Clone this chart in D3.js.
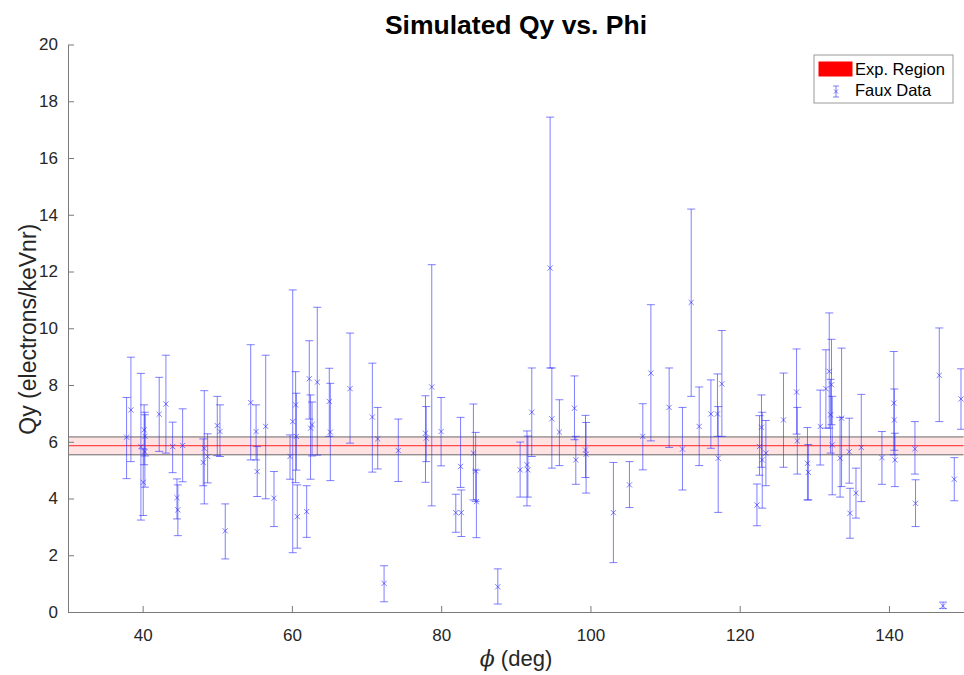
<!DOCTYPE html>
<html>
<head>
<meta charset="utf-8">
<script src="https://cdn.jsdelivr.net/npm/d3@7"></script>
<style>
  html, body { margin: 0; padding: 0; background: #fff; }
  svg { display: block; font-family: "Liberation Sans", Arial, Helvetica, sans-serif; }
</style>
</head>
<body>
<svg id="chart" width="964" height="675"></svg>
<script>
// Simulated Qy measurements vs. recoil angle phi, with asymmetric error bars
const phi = [
  37.85, 38.43, 39.77, 40.08, 40.20, 40.30, 40.32, 42.22, 43.12, 44.02,
  44.60, 44.72, 45.36, 48.12, 48.26, 48.71, 50.00, 50.36, 51.07, 54.48,
  55.20, 55.35, 56.49, 57.60, 59.75, 60.11, 60.50, 60.60, 60.72, 61.98,
  62.33, 62.50, 62.70, 63.40, 65.01, 65.15, 67.79, 70.78, 71.50, 72.35,
  74.26, 77.90, 78.00, 78.74, 79.99, 81.96, 82.60, 82.70, 84.32, 84.62,
  84.72, 87.59, 90.58, 91.50, 91.62, 92.14, 94.60, 94.83, 95.84, 97.86,
  98.04, 99.34, 99.42, 103.08, 105.23, 107.02, 108.10, 110.55, 112.33, 113.50,
  114.57, 116.14, 117.02, 117.12, 117.61, 122.31, 122.65, 122.92, 123.02, 123.51,
  125.87, 127.62, 127.72, 129.08, 129.20, 130.79, 131.55, 132.00, 132.18, 132.30,
  132.40, 133.45, 133.65, 134.68, 134.78, 135.58, 136.29, 139.06, 140.65, 140.72,
  140.80, 143.48, 143.56, 146.74, 147.24, 148.75, 149.65
];
const qy = [
  6.16, 7.12, 5.83, 4.57, 6.42, 5.65, 6.19, 6.97, 7.33, 5.83,
  4.03, 3.60, 5.87, 5.27, 5.77, 5.48, 6.57, 6.36, 2.86, 7.38,
  6.36, 4.95, 6.54, 4.01, 5.48, 6.71, 7.30, 6.19, 3.36, 3.54,
  8.22, 6.48, 6.60, 8.10, 7.42, 6.34, 7.87, 6.87, 6.10, 1.01,
  5.69, 6.30, 6.13, 7.93, 6.36, 3.50, 5.13, 3.50, 5.60, 4.97,
  3.89, 0.89, 5.01, 5.19, 5.01, 7.04, 12.12, 6.81, 6.34, 7.18,
  5.36, 5.71, 5.56, 3.50, 4.48, 6.19, 8.42, 7.21, 5.74, 10.91,
  6.54, 6.98, 6.98, 5.42, 8.04, 3.77, 5.83, 6.51, 5.36, 5.60,
  6.77, 7.75, 6.03, 5.24, 4.92, 6.54, 7.87, 8.48, 6.95, 8.01,
  5.89, 5.42, 6.83, 5.65, 3.48, 4.19, 5.80, 5.44, 7.36, 6.77,
  5.36, 5.75, 3.83, 8.34, 0.22, 4.68, 7.51
];
const qyLow = [
  4.70, 5.30, 3.24, 3.40, 5.19, 4.40, 5.50, 5.66, 5.60, 4.91,
  3.28, 2.69, 4.59, 4.45, 3.81, 4.55, 5.51, 5.48, 1.87, 5.36,
  5.36, 4.07, 3.99, 3.01, 4.68, 2.09, 4.56, 5.00, 2.25, 2.63,
  6.80, 4.68, 5.50, 5.53, 6.19, 4.63, 5.95, 4.93, 5.04, 0.36,
  4.60, 4.57, 5.30, 3.74, 5.15, 2.81, 4.39, 2.66, 3.95, 3.90,
  2.62, 0.28, 4.05, 3.74, 4.05, 5.48, 8.60, 5.07, 5.16, 6.07,
  4.50, 4.74, 4.19, 1.74, 3.68, 5.01, 6.03, 5.80, 4.30, 7.60,
  5.16, 5.77, 6.19, 3.51, 6.19, 3.04, 4.82, 5.10, 3.66, 4.45,
  5.10, 6.27, 4.86, 3.95, 3.95, 5.18, 6.48, 6.48, 5.60, 6.60,
  4.13, 4.05, 4.42, 4.54, 2.60, 3.31, 3.89, 4.50, 5.54, 5.70,
  4.42, 4.86, 3.01, 6.71, 0.12, 3.92, 6.44
];
const qyHigh = [
  7.56, 8.98, 8.41, 5.75, 7.30, 7.04, 6.95, 8.27, 9.05, 6.69,
  4.69, 4.48, 7.16, 6.10, 7.80, 6.28, 7.60, 7.30, 3.81, 9.42,
  7.30, 5.83, 9.05, 4.95, 6.24, 11.35, 8.47, 7.71, 4.48, 4.45,
  9.56, 7.65, 7.40, 10.74, 8.59, 8.06, 9.83, 8.77, 7.21, 1.63,
  6.80, 7.62, 7.24, 12.24, 7.56, 4.15, 6.86, 4.30, 7.33, 6.33,
  5.00, 1.52, 5.99, 6.38, 6.20, 8.60, 17.44, 8.60, 7.48, 8.32,
  6.19, 6.93, 6.68, 5.27, 5.30, 7.34, 10.83, 8.60, 7.21, 14.20,
  7.93, 8.18, 8.39, 7.24, 9.92, 4.51, 6.92, 7.65, 7.04, 6.75,
  8.42, 9.27, 7.21, 6.50, 5.90, 7.82, 9.24, 10.54, 8.20, 9.61,
  7.60, 6.86, 9.30, 6.83, 4.36, 5.07, 7.67, 6.36, 9.18, 7.86,
  6.30, 6.71, 4.66, 10.01, 0.35, 5.44, 8.57
];

// Experimental Qy band
const expCenter = 5.86;
const expLow = 5.54;
const expHigh = 6.17;

const xTicks = [40, 60, 80, 100, 120, 140];
const yTicks = [0, 2, 4, 6, 8, 10, 12, 14, 16, 18, 20];
const xDomain = [30, 150];
const yDomain = [0, 20];

const titleText = "Simulated Qy vs. Phi";
const yLabelText = "Qy (electrons/keVnr)";
const legendLabels = ["Exp. Region", "Faux Data"];

const svg = d3.select("#chart");
const W = 964, H = 675;
const m = { left: 68, right: 0.4, top: 44.5, bottom: 63 };

const x = d3.scaleLinear().domain(xDomain).range([m.left, W - m.right]);
const y = d3.scaleLinear().domain(yDomain).range([H - m.bottom, m.top]);

const axisColor = "#7a7a7a";
const textColor = "#262626";
const barColor = "#2b2bff";

// Experimental region band
const band = svg.append("g");
band.append("rect")
  .attr("x", x(xDomain[0])).attr("width", x(xDomain[1]) - x(xDomain[0]))
  .attr("y", y(expHigh)).attr("height", y(expLow) - y(expHigh))
  .attr("fill", "#ff0000").attr("fill-opacity", 0.11);
[expLow, expHigh].forEach(v => {
  band.append("line")
    .attr("x1", x(xDomain[0])).attr("x2", x(xDomain[1]))
    .attr("y1", y(v)).attr("y2", y(v))
    .attr("stroke", "#3a3a3a").attr("stroke-width", 1).attr("stroke-opacity", 0.75);
});
band.append("line")
  .attr("x1", x(xDomain[0])).attr("x2", x(xDomain[1]))
  .attr("y1", y(expCenter)).attr("y2", y(expCenter))
  .attr("stroke", "#ff2020").attr("stroke-width", 1);

// Error bars with x markers
const pts = phi.map((p, i) => ({ p, v: qy[i], lo: qyLow[i], hi: qyHigh[i] }));
const cap = 4, mk = 2.6;
const eb = svg.append("g")
  .attr("stroke", barColor).attr("stroke-width", 1).attr("stroke-opacity", 0.6)
  .attr("fill", "none");
const g = eb.selectAll("g").data(pts).join("g");
g.append("line")
  .attr("x1", d => x(d.p)).attr("x2", d => x(d.p))
  .attr("y1", d => y(d.lo)).attr("y2", d => y(d.hi));
g.append("line")
  .attr("x1", d => x(d.p) - cap).attr("x2", d => x(d.p) + cap)
  .attr("y1", d => y(d.lo)).attr("y2", d => y(d.lo));
g.append("line")
  .attr("x1", d => x(d.p) - cap).attr("x2", d => x(d.p) + cap)
  .attr("y1", d => y(d.hi)).attr("y2", d => y(d.hi));
g.append("path")
  .attr("d", d => {
    const cx = x(d.p), cy = y(d.v);
    return `M${cx - mk},${cy - mk}L${cx + mk},${cy + mk}M${cx - mk},${cy + mk}L${cx + mk},${cy - mk}`;
  });

// Axes (ticks point inward)
const xAxis = svg.append("g")
  .attr("transform", `translate(0,${y(0)})`)
  .call(d3.axisBottom(x).tickValues(xTicks).tickSize(-6).tickPadding(17).tickSizeOuter(0));
const yAxis = svg.append("g")
  .attr("transform", `translate(${x(xDomain[0])},0)`)
  .call(d3.axisLeft(y).tickValues(yTicks).tickSize(-6).tickPadding(10).tickSizeOuter(0));
[xAxis, yAxis].forEach(a => {
  a.select(".domain").attr("stroke", axisColor);
  a.selectAll(".tick line").attr("stroke", axisColor);
  a.selectAll(".tick text").attr("fill", textColor)
    .style("font-size", "17px").style("font-family", "Liberation Sans, Arial, sans-serif");
});

// Title and axis labels
svg.append("text")
  .attr("x", 516).attr("y", 34).attr("text-anchor", "middle")
  .attr("fill", "#000").style("font-size", "26.5px").style("font-weight", "bold")
  .text(titleText);

const xl = svg.append("text")
  .attr("x", 516).attr("y", 666).attr("text-anchor", "middle")
  .attr("fill", textColor).style("font-size", "22px");
xl.append("tspan").style("font-style", "italic").style("font-family", "DejaVu Serif, serif").text("\u03D5");
xl.append("tspan").text(" (deg)");

svg.append("text")
  .attr("transform", `translate(36,${(y(0) + y(20)) / 2 + 1}) rotate(-90)`)
  .attr("text-anchor", "middle").attr("fill", textColor)
  .style("font-size", "23px").text(yLabelText);

// Legend
const lg = svg.append("g").attr("transform", "translate(814,55)");
lg.append("rect").attr("width", 139).attr("height", 48)
  .attr("fill", "#fff").attr("stroke", "#9a9a9a").attr("stroke-width", 1);
lg.append("rect").attr("x", 4.5).attr("y", 6.5).attr("width", 34).attr("height", 15)
  .attr("fill", "#ff0000");
const lgBar = lg.append("g").attr("stroke", barColor).attr("stroke-opacity", 0.6).attr("stroke-width", 1);
lgBar.append("line").attr("x1", 22).attr("x2", 22).attr("y1", 31).attr("y2", 42);
lgBar.append("line").attr("x1", 19).attr("x2", 25).attr("y1", 31).attr("y2", 31);
lgBar.append("line").attr("x1", 19).attr("x2", 25).attr("y1", 42).attr("y2", 42);
lgBar.append("path").attr("d", "M20,34.5L24,38.5M20,38.5L24,34.5");
lg.selectAll("text.lab").data(legendLabels).join("text").attr("class", "lab")
  .attr("x", 41).attr("y", (d, i) => 20 + i * 21)
  .attr("fill", "#000").style("font-size", "16.5px").text(d => d);
</script>
</body>
</html>
